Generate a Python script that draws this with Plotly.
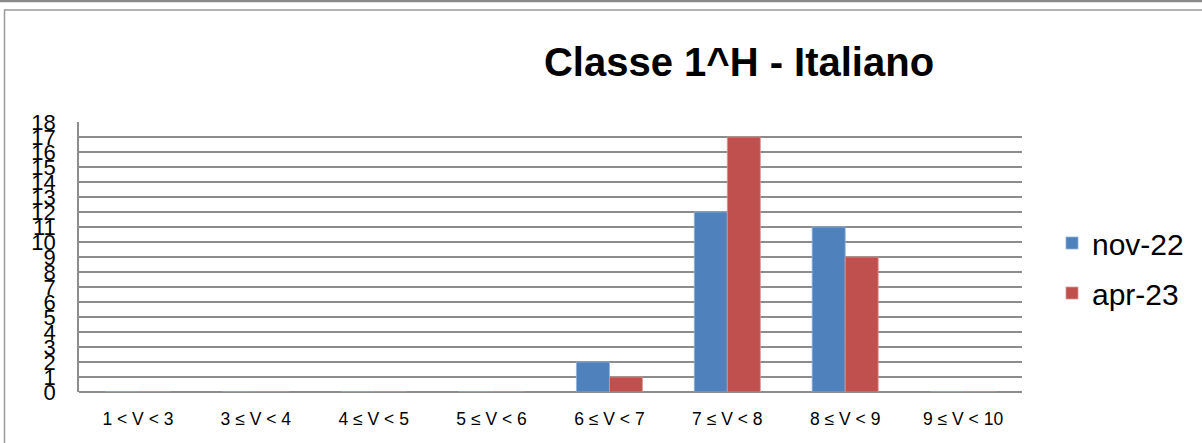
import plotly.graph_objects as go

categories = ["1 < V < 3", "3 ≤ V < 4", "4 ≤ V < 5", "5 ≤ V < 6",
              "6 ≤ V < 7", "7 ≤ V < 8", "8 ≤ V < 9", "9 ≤ V < 10"]
nov22 = [0, 0, 0, 0, 2, 12, 11, 0]
apr23 = [0, 0, 0, 0, 1, 17, 9, 0]
series_names = ["nov-22", "apr-23"]
y_ticks = list(range(0, 19))

W, H = 1202, 443
L, R, T, B = 79, 180, 122, 51
pw, ph = W - L - R, H - T - B

def px_x(p):
    return (p - L) / pw

def px_y(p):
    return (H - B - p) / ph

fig = go.Figure()
fig.add_trace(go.Bar(x=categories, y=nov22, name=series_names[0],
                     marker=dict(color="#4F81BD", line=dict(color="#8fb0d8", width=0.8)),
                     legendgroup="a"))
fig.add_trace(go.Bar(x=categories, y=apr23, name=series_names[1],
                     marker=dict(color="#C0504D", line=dict(color="#dc9391", width=0.8)),
                     legendgroup="b"))

fig.update_layout(
    width=W, height=H,
    margin=dict(l=L, r=R, t=T, b=B),
    paper_bgcolor="white", plot_bgcolor="white",
    barmode="group", bargap=0.44, bargroupgap=0,
    font=dict(family="Liberation Sans, Arial, sans-serif", color="black"),
    title=dict(text="<b>Classe 1^H - Italiano</b>", x=px_x(739), xref="paper",
               xanchor="center", y=1 - 62 / H, yref="container", yanchor="middle",
               font=dict(size=40, color="black")),
    legend=dict(x=px_x(1052), y=px_y(268), xanchor="left", yanchor="middle",
                font=dict(size=30), tracegroupgap=8, itemwidth=30,
                bgcolor="rgba(0,0,0,0)"),
    showlegend=True,
)
fig.update_xaxes(showgrid=False, showline=False, ticks="", ticklabelstandoff=14,
                 tickfont=dict(size=17.5, color="black"))
fig.update_yaxes(range=[0, 18], tickvals=y_ticks, ticktext=[str(v) for v in y_ticks],
                 showgrid=True, gridcolor="#8c8c8c", gridwidth=1.6,
                 showline=True, linecolor="#8c8c8c", linewidth=1.6,
                 zeroline=True, zerolinecolor="#8c8c8c", zerolinewidth=1.6,
                 ticks="", ticklabelstandoff=17, tickfont=dict(size=22, color="black"))

# outer frames
fig.add_shape(type="line", xref="paper", yref="paper",
              x0=px_x(0), x1=px_x(W), y0=px_y(1), y1=px_y(1),
              line=dict(color="#8a8a8a", width=2.5))
fig.add_shape(type="rect", xref="paper", yref="paper",
              x0=px_x(4.5), x1=px_x(W + 10), y0=px_y(10), y1=px_y(H + 10),
              line=dict(color="#9a9a9a", width=1.5), fillcolor="rgba(0,0,0,0)")

fig.write_html("out.html", config={"displayModeBar": False},
               post_script="document.body.style.margin='0';document.body.style.overflow='hidden';")
